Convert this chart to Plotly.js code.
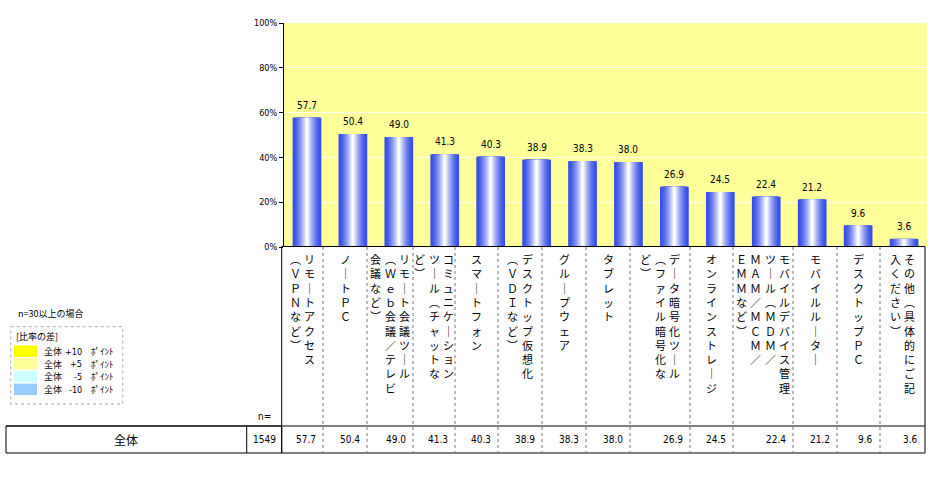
<!DOCTYPE html>
<html>
<head>
<meta charset="utf-8" />
<script src="https://cdn.plot.ly/plotly-3.0.1.min.js"></script>
<style>
  html, body { margin: 0; padding: 0; background: #fff; }
  #chart { width: 940px; height: 479px; }
</style>
</head>
<body>
<div id="chart"></div>
<script>
  // データ
  const categories = [
    "リモートアクセス（ＶＰＮなど）",
    "ノートＰＣ",
    "リモート会議ツール（Ｗｅｂ会議／テレビ会議など）",
    "コミュニケーションツール（チャットなど）",
    "スマートフォン",
    "デスクトップ仮想化（ＶＤＩなど）",
    "グループウェア",
    "タブレット",
    "データ暗号化ツール（ファイル暗号化など）",
    "オンラインストレージ",
    "モバイルデバイス管理ツール（ＭＤＭ／ＭＡＭ／ＭＣＭ／ＥＭＭなど）",
    "モバイルルーター",
    "デスクトップＰＣ",
    "その他（具体的にご記入ください）",
  ];
  const values = [57.7, 50.4, 49.0, 41.3, 40.3, 38.9, 38.3, 38.0, 26.9, 24.5, 22.4, 21.2, 9.6, 3.6];
  // 縦書きラベルの行（右から左）
  const labelLines = [
    ["リモートアクセス", "（ＶＰＮなど）"],
    ["ノートＰＣ"],
    ["リモート会議ツール", "（Ｗｅｂ会議／テレビ", "会議など）"],
    ["コミュニケーション", "ツール（チャットな", "ど）"],
    ["スマートフォン"],
    ["デスクトップ仮想化", "（ＶＤＩなど）"],
    ["グループウェア"],
    ["タブレット"],
    ["データ暗号化ツール", "（ファイル暗号化な", "ど）"],
    ["オンラインストレージ"],
    ["モバイルデバイス管理", "ツール（ＭＤＭ／", "ＭＡＭ／ＭＣＭ／", "ＥＭＭなど）"],
    ["モバイルルーター"],
    ["デスクトップＰＣ"],
    ["その他（具体的にご記", "入ください）"],
  ];
  const rowLabel = "全体";
  const rowN = 1549;
  const yTicks = [0, 20, 40, 60, 80, 100];
  const legendColors = ["#FFFF00", "#FFFF99", "#CCFFFF", "#99CCFF"];
  const legendPoints = ["+10", "+5", "-5", "-10"];

  // レイアウト（ピクセル）
  const W = 940, H = 479;
  const M = { l: 284, r: 13, t: 23, b: 232 };
  const colEdges = [281.7, 323, 367, 413, 455, 498, 542, 586, 630, 690, 733, 793, 837, 880, 925];
  const px = (x) => (x - M.l) / (W - M.l - M.r);
  const py = (y) => (H - M.b - y) / (H - M.t - M.b);

  const JP = "'Noto Sans CJK JP', sans-serif";
  const NUM = "'Liberation Sans Narrow', 'DejaVu Sans Condensed', 'Noto Sans CJK JP', sans-serif";

  // グラデーションの棒（重ね描き）
  const barW = 0.625;
  const layers = 16;
  const edge = [52, 78, 230];
  const traces = [];
  for (let i = 0; i < layers; i++) {
    const t = Math.pow(i / (layers - 1), 1.5);
    const c = edge.map((v) => Math.round(v + (255 - v) * t));
    traces.push({
      type: "bar",
      x: categories,
      y: values,
      width: barW * (1 - i / layers),
      marker: { color: `rgb(${c.join(",")})`, line: { width: 0 } },
      hoverinfo: "skip",
      showlegend: false,
    });
  }

  const annotations = [];

  // 棒の上の数値
  values.forEach((v, i) => {
    annotations.push({
      x: categories[i], y: v, xref: "x", yref: "y",
      text: v.toFixed(1), showarrow: false,
      yanchor: "bottom", yshift: 5,
      font: { family: NUM, size: 10, color: "#000" },
    });
  });

  // 縦書き
  const vmap = { "ー": "｜", "（": "︵", "）": "︶" };
  const toVertical = (s) => Array.from(s).map((c) => vmap[c] || c).join("<br>");
  const lineStep = 14.5;
  labelLines.forEach((lines, i) => {
    const cx = (colEdges[i] + colEdges[i + 1]) / 2;
    const k = lines.length;
    lines.forEach((ln, j) => {
      annotations.push({
        x: px(cx + ((k - 1) / 2 - j) * lineStep), y: py(249),
        xref: "paper", yref: "paper",
        text: toVertical(ln), showarrow: false,
        xanchor: "center", yanchor: "top", align: "center",
        font: { family: JP, size: 11, color: "#000" },
      });
    });
  });

  // 表
  annotations.push({
    x: px(264), y: py(416), xref: "paper", yref: "paper",
    text: "n=", showarrow: false, xanchor: "center", yanchor: "middle",
    font: { family: NUM, size: 10, color: "#000" },
  });
  annotations.push({
    x: px(126), y: py(439.5), xref: "paper", yref: "paper",
    text: rowLabel, showarrow: false, xanchor: "center", yanchor: "middle",
    font: { family: JP, size: 12, color: "#000" },
  });
  annotations.push({
    x: px(264), y: py(439.5), xref: "paper", yref: "paper",
    text: String(rowN), showarrow: false, xanchor: "center", yanchor: "middle",
    font: { family: NUM, size: 10, color: "#000" },
  });
  values.forEach((v, i) => {
    annotations.push({
      x: px(colEdges[i + 1] - 5), y: py(439.5), xref: "paper", yref: "paper",
      text: v.toFixed(1), showarrow: false, xanchor: "right", yanchor: "middle",
      font: { family: NUM, size: 10, color: "#000" },
    });
  });

  // 凡例
  annotations.push({
    x: px(16), y: py(313), xref: "paper", yref: "paper",
    text: "n=30以上の場合", showarrow: false, xanchor: "left", yanchor: "middle",
    font: { family: JP, size: 9, color: "#000" },
  });
  annotations.push({
    x: px(14), y: py(336), xref: "paper", yref: "paper",
    text: "[比率の差]", showarrow: false, xanchor: "left", yanchor: "middle",
    font: { family: JP, size: 9, color: "#000" },
  });

  const shapes = [];
  legendColors.forEach((col, i) => {
    const y0 = 345.5 + i * 12.7;
    shapes.push({
      type: "rect", xref: "paper", yref: "paper",
      x0: px(14), x1: px(37), y0: py(y0), y1: py(y0 + 11.5),
      fillcolor: col, line: { width: 0 },
    });
    const ym = py(y0 + 6);
    annotations.push({
      x: px(42), y: ym, xref: "paper", yref: "paper",
      text: "全体", showarrow: false, xanchor: "left", yanchor: "middle",
      font: { family: JP, size: 9, color: "#000" },
    });
    annotations.push({
      x: px(84), y: ym, xref: "paper", yref: "paper",
      text: legendPoints[i], showarrow: false, xanchor: "right", yanchor: "middle",
      font: { family: NUM, size: 9, color: "#000" },
    });
    annotations.push({
      x: px(89), y: ym, xref: "paper", yref: "paper",
      text: "ﾎﾟｲﾝﾄ", showarrow: false, xanchor: "left", yanchor: "middle",
      font: { family: JP, size: 9, color: "#000" },
    });
  });
  shapes.push({
    type: "rect", xref: "paper", yref: "paper",
    x0: px(10.7), x1: px(122.7), y0: py(326.7), y1: py(404),
    line: { color: "#aaa", width: 1, dash: "dot" },
  });

  // 表の罫線
  const line = { color: "#000", width: 1 };
  shapes.push({ type: "rect", xref: "paper", yref: "paper",
    x0: px(colEdges[0]), x1: px(colEdges[14]), y0: py(246.5), y1: py(453), line });
  shapes.push({ type: "line", xref: "paper", yref: "paper",
    x0: px(6), x1: px(colEdges[14]), y0: py(426), y1: py(426), line });
  shapes.push({ type: "rect", xref: "paper", yref: "paper",
    x0: px(6), x1: px(colEdges[0]), y0: py(426), y1: py(453), line });
  shapes.push({ type: "line", xref: "paper", yref: "paper",
    x0: px(246.7), x1: px(246.7), y0: py(426), y1: py(453), line });
  for (let i = 1; i < colEdges.length - 1; i++) {
    shapes.push({ type: "line", xref: "paper", yref: "paper",
      x0: px(colEdges[i]), x1: px(colEdges[i]), y0: py(247), y1: py(453),
      line: { color: "#777", width: 1, dash: "dot" } });
  }

  const layout = {
    width: W, height: H,
    margin: M,
    paper_bgcolor: "#fff",
    plot_bgcolor: "#FFFF99",
    barmode: "overlay",
    showlegend: false,
    xaxis: {
      type: "category",
      showticklabels: false, ticks: "", showgrid: false,
      zeroline: false, showline: false,
      range: [-0.5, categories.length - 0.5],
    },
    yaxis: {
      range: [0, 100],
      tickvals: yTicks,
      ticktext: yTicks.map((v) => v + "%"),
      ticks: "outside", ticklen: 4, tickcolor: "#000",
      showline: true, linecolor: "#000", linewidth: 1,
      showgrid: true, gridcolor: "rgba(255,255,255,0.9)",
      zeroline: false,
      tickfont: { family: NUM, size: 9, color: "#000" },
      fixedrange: true,
    },
    annotations,
    shapes,
  };

  Plotly.newPlot("chart", traces, layout, { displayModeBar: false, staticPlot: true });
</script>
</body>
</html>
